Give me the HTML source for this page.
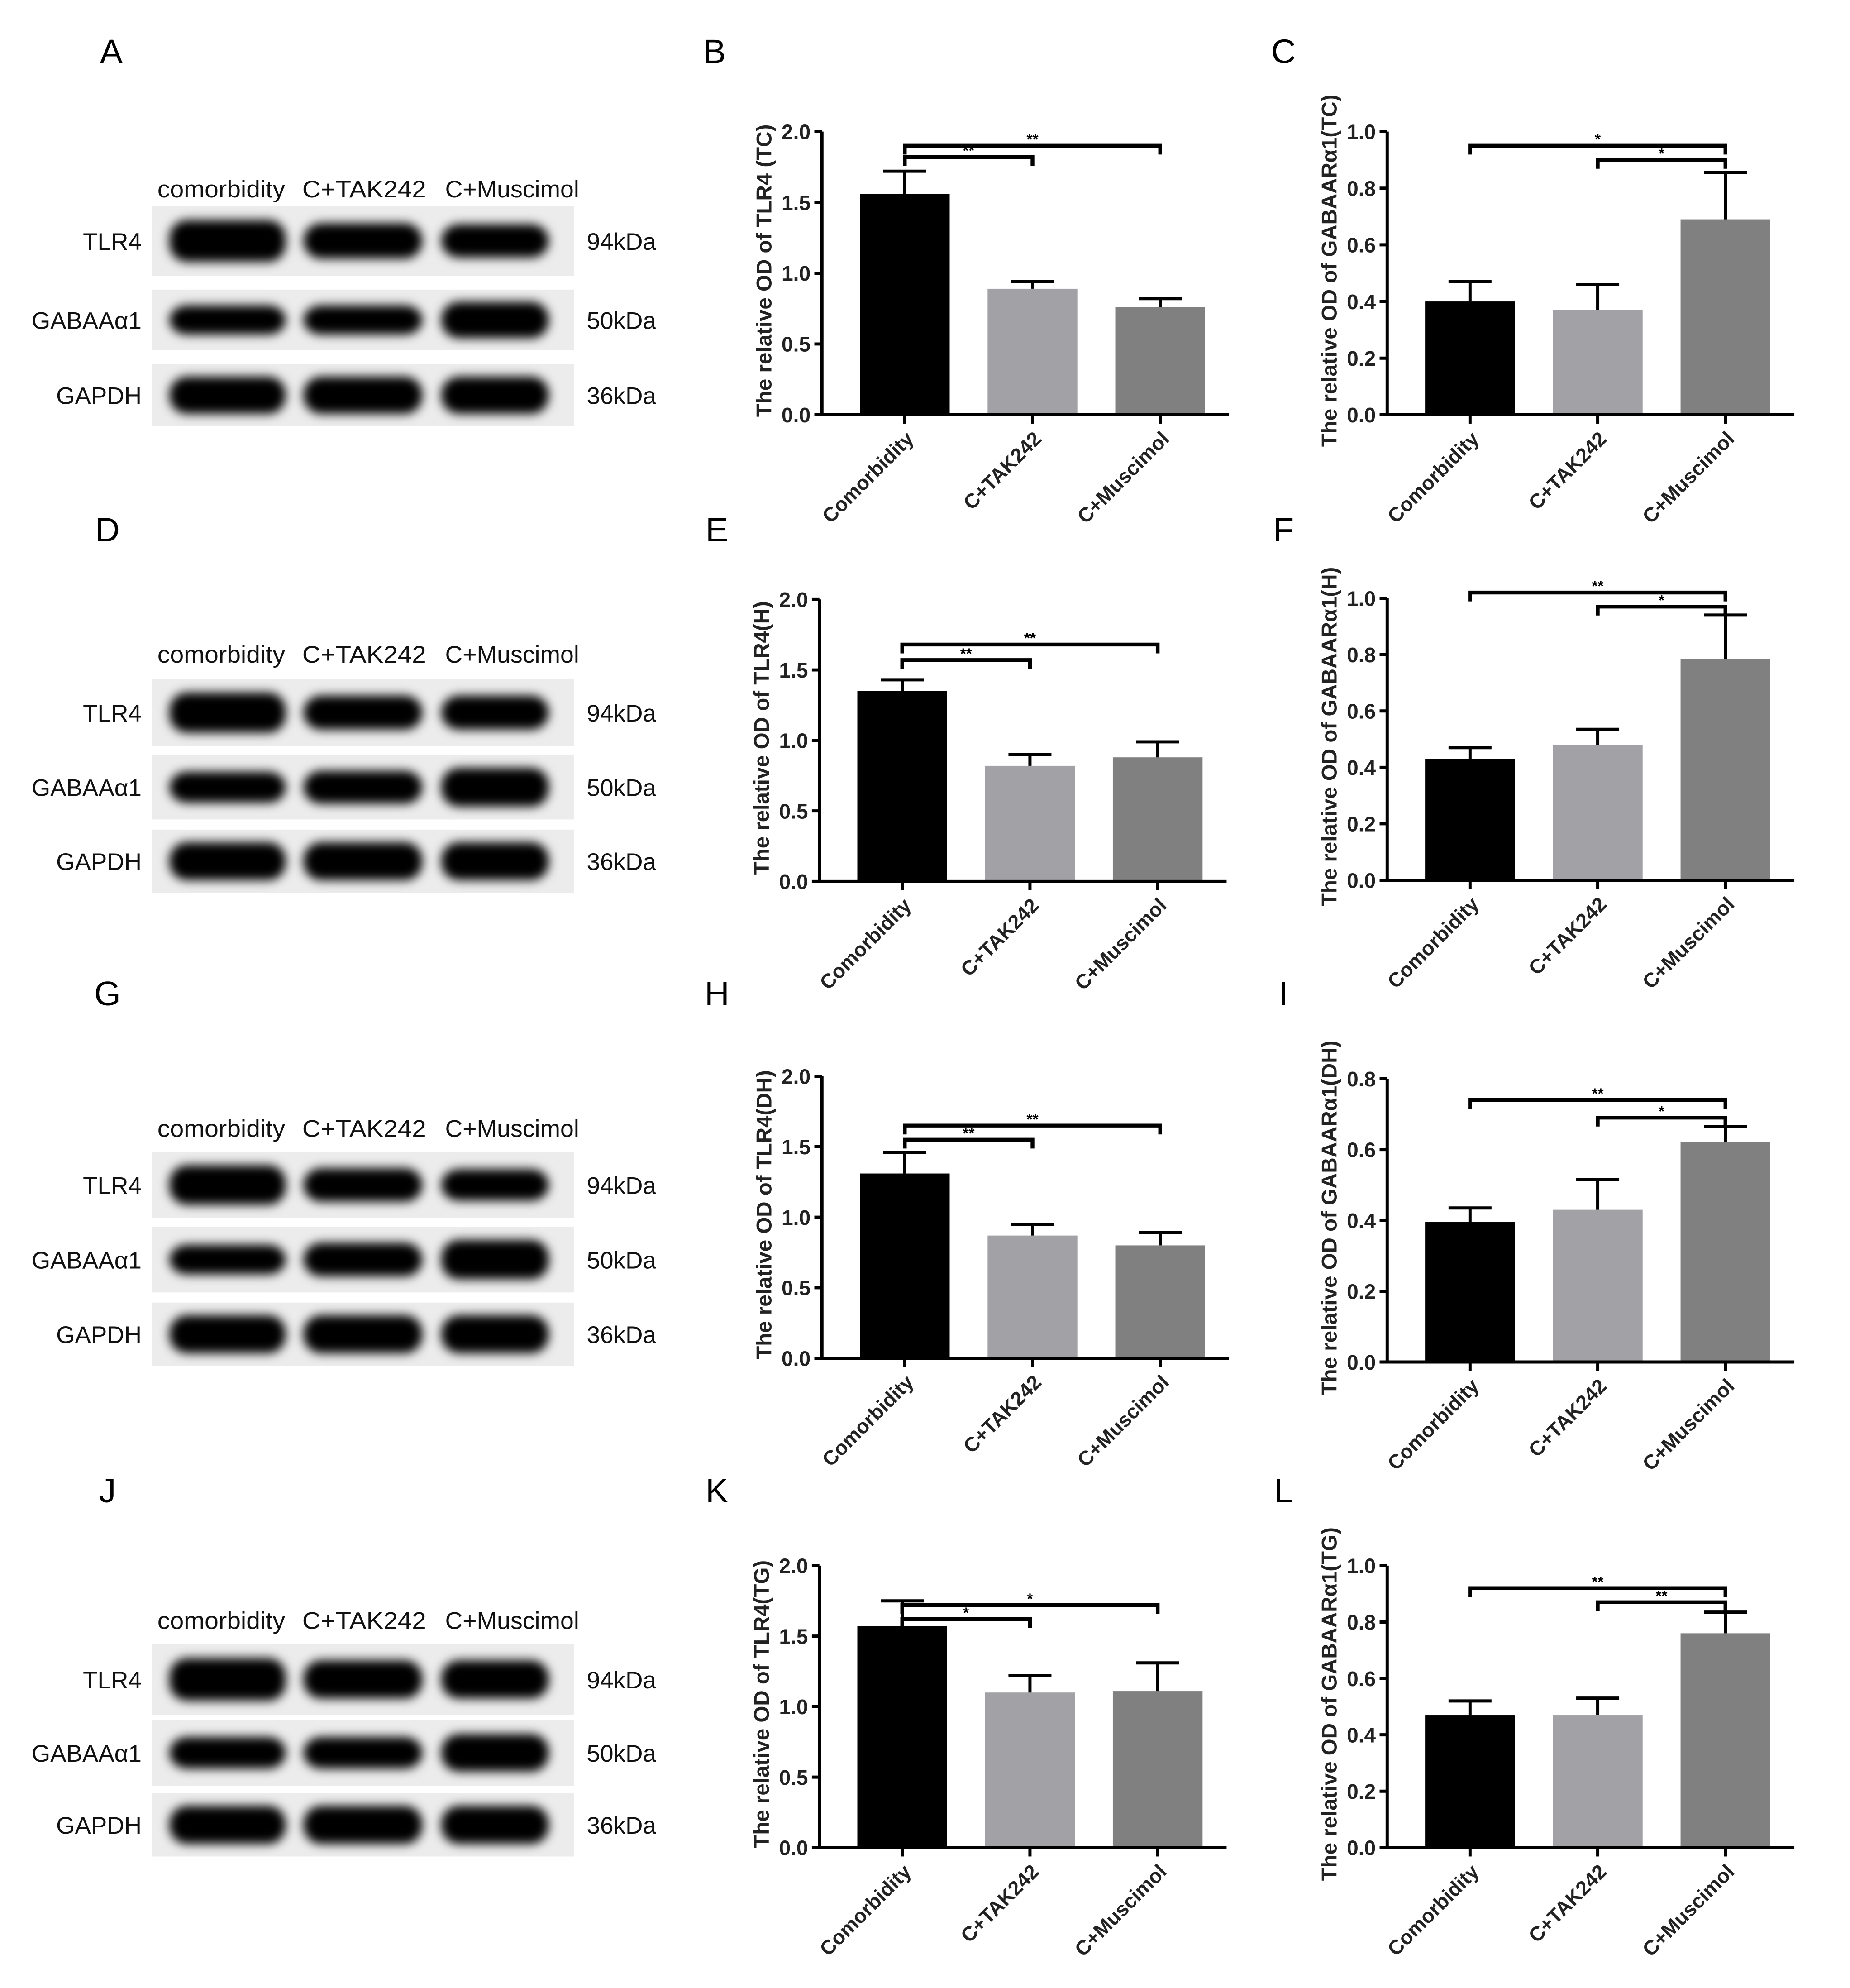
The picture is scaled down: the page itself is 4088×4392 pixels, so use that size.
<!DOCTYPE html>
<html><head><meta charset="utf-8"><style>
html,body{margin:0;padding:0;background:#fff}
svg{display:block}
text{font-family:"Liberation Sans",Arial,sans-serif}
</style></head><body>
<svg id="fig" width="4088" height="4392" viewBox="0 0 1463 1572" preserveAspectRatio="none" xmlns="http://www.w3.org/2000/svg">
<defs><filter id="blur" x="-20%" y="-50%" width="140%" height="200%"><feGaussianBlur stdDeviation="4"/></filter></defs>
<g id="root"></g>
</svg>
<script>
const categories = ["Comorbidity","C+TAK242","C+Muscimol"];
const bMeans=[1.56,0.89,0.76], bErrs=[0.16,0.05,0.06];
const cMeans=[0.40,0.37,0.69], cErrs=[0.07,0.09,0.165];
const eMeans=[1.35,0.82,0.88], eErrs=[0.08,0.08,0.11];
const fMeans=[0.43,0.48,0.785], fErrs=[0.04,0.055,0.155];
const hMeans=[1.31,0.87,0.80], hErrs=[0.15,0.08,0.09];
const iMeans=[0.395,0.43,0.62], iErrs=[0.04,0.085,0.045];
const kMeans=[1.57,1.10,1.11], kErrs=[0.18,0.12,0.20];
const lMeans=[0.47,0.47,0.76], lErrs=[0.05,0.06,0.075];
const tlrTicks=["0.0","0.5","1.0","1.5","2.0"];
const gabaTicks=["0.0","0.2","0.4","0.6","0.8","1.0"];
const gabaTicksI=["0.0","0.2","0.4","0.6","0.8"];
const bSig=[["**",0,1,1.82],["**",0,2,1.90]];
const cSig=[["*",0,2,0.95],["*",1,2,0.90]];
const eSig=[["**",0,1,1.57],["**",0,2,1.68]];
const fSig=[["**",0,2,1.02],["*",1,2,0.97]];
const hSig=[["**",0,1,1.55],["**",0,2,1.65]];
const iSig=[["**",0,2,0.74],["*",1,2,0.69]];
const kSig=[["*",0,1,1.62],["*",0,2,1.72]];
const lSig=[["**",0,2,0.92],["**",1,2,0.87]];
const laneLabels=["comorbidity","C+TAK242","C+Muscimol"];
const blotRows=["TLR4","GABAAα1","GAPDH"];
const blotKda=["94kDa","50kDa","36kDa"];

const NS="http://www.w3.org/2000/svg";
const root=document.getElementById('root');
function el(tag,attrs,parent,txt){const e=document.createElementNS(NS,tag);for(const k in attrs)e.setAttribute(k,attrs[k]);if(txt!==undefined)e.textContent=txt;(parent||root).appendChild(e);return e;}
const colors=["#000000","#a2a2a6","#808080"];

function chart(name,ax,y0,yTop,ymax,ticks,means,errs,sigs,title){
  const g=el('g',{});
  
  
  const ys=v=>y0-(v/ymax)*(y0-yTop);
  const bw=71, x0=ax+30, sp=101;
  const xc=i=>x0+i*sp+bw/2;
  means.forEach((m,i)=>{
    const r=el('rect',{x:x0+i*sp,y:ys(m),width:bw,height:y0-ys(m),fill:colors[i]},g);
    
    
    const e=el('path',{d:`M${xc(i)} ${ys(m)}V${ys(m+errs[i])}M${xc(i)-17} ${ys(m+errs[i])}H${xc(i)+17}`,stroke:'#000','stroke-width':2.5,fill:'none'},g);
    
    
  });
  const axis=el('path',{d:`M${ax} ${yTop}V${y0}H${ax+322}`,stroke:'#000','stroke-width':2.5,fill:'none'},g);
  
  
  ticks.forEach((t,j)=>{
    const v=parseFloat(t);const y=ys(v);
    el('path',{d:`M${ax-6} ${y}H${ax}`,stroke:'#000','stroke-width':2.5},g);
    const tl=el('text',{x:ax-9,y:y+6,'text-anchor':'end','font-size':16.5,'font-weight':'bold',fill:'#222'},g,t);
    
    
  });
  categories.forEach((c,i)=>{
    el('path',{d:`M${xc(i)} ${y0}V${y0+7}`,stroke:'#000','stroke-width':2.5},g);
    const t=el('text',{x:xc(i)+8,y:y0+20,'text-anchor':'end','font-size':16,'font-weight':'bold',fill:'#222',transform:`rotate(-45 ${xc(i)+8} ${y0+20})`},g,c);
    
    
  });
  sigs.forEach(s=>{
    const y=ys(s[3]);const a=xc(s[1]),b=xc(s[2]);
    const p=el('path',{d:`M${a} ${y+7}V${y}H${b}V${y+7}`,stroke:'#000','stroke-width':3,fill:'none'},g);
    
    
    const st=el('text',{x:(a+b)/2,y:y-1,'text-anchor':'middle','font-size':12,'font-weight':'bold'},g,s[0]);
    
    
  });
  const ty=(y0+yTop)/2-8;
  const tt=el('text',{x:ax-46,y:ty,'text-anchor':'middle','font-size':17,'font-weight':'bold',fill:'#222',transform:`rotate(-90 ${ax-40} ${ty})`},g,title);
  
  
}

chart('chart-b',650,328,104,2.0,tlrTicks,bMeans,bErrs,bSig,'The relative OD of TLR4 (TC)');
chart('chart-c',1097,328,104,1.0,gabaTicks,cMeans,cErrs,cSig,'The relative OD of GABAARα1(TC)');
chart('chart-e',648,697,474,2.0,tlrTicks,eMeans,eErrs,eSig,'The relative OD of TLR4(H)');
chart('chart-f',1097,696,473,1.0,gabaTicks,fMeans,fErrs,fSig,'The relative OD of GABAARα1(H)');
chart('chart-h',650,1074,851,2.0,tlrTicks,hMeans,hErrs,hSig,'The relative OD of TLR4(DH)');
chart('chart-i',1097,1077,853,0.8,gabaTicksI,iMeans,iErrs,iSig,'The relative OD of GABAARα1(DH)');
chart('chart-k',648,1461,1238,2.0,tlrTicks,kMeans,kErrs,kSig,'The relative OD of TLR4(TG)');
chart('chart-l',1097,1461,1238,1.0,gabaTicks,lMeans,lErrs,lSig,'The relative OD of GABAARα1(TG)');

const blotPanels=[
 {n:'a',lab:149,rows:[[163,218],[229,277],[288,337]],w:[[1,0.85,0.8],[0.8,0.8,1],[1,1,1]]},
 {n:'d',lab:517,rows:[[537,590],[597,648],[656,706]],w:[[1,0.85,0.85],[0.8,0.85,1],[1,1,1]]},
 {n:'g',lab:892,rows:[[911,963],[970,1022],[1030,1080]],w:[[1,0.85,0.8],[0.75,0.85,1],[1,1,1]]},
 {n:'j',lab:1281,rows:[[1300,1356],[1360,1412],[1418,1468]],w:[[1,0.9,0.9],[0.8,0.8,0.95],[1,1,1]]}
];
const laneX=[[128,232],[234,340],[343,440]];
const laneLabelX=[175,288,405];
blotPanels.forEach(p=>{
  const g=el('g',{});
  
  
  laneLabels.forEach((l,i)=>{
    const t=el('text',{x:laneLabelX[i],y:p.lab+7,'text-anchor':'middle','font-size':19,fill:'#111',textLength:i==0?101:i==1?98:106,lengthAdjust:'spacingAndGlyphs'},g,l);
    
    
  });
  p.rows.forEach((r,j)=>{
    const bg=el('rect',{x:120,y:r[0],width:334,height:r[1]-r[0],fill:'#ececec'},g);
    
    
    const h=r[1]-r[0];
    laneX.forEach((lx,i)=>{
      const f=p.w[j][i];const bh=h*0.6*f;const cy=r[0]+h/2;
      const b=el('rect',{x:lx[0]+6,y:cy-bh/2,width:lx[1]-lx[0]-12,height:bh,rx:14,fill:'#050505',filter:'url(#blur)'},g);
      
      
    });
    const lt=el('text',{x:112,y:(r[0]+r[1])/2+7,'text-anchor':'end','font-size':19,fill:'#111'},g,blotRows[j]);
    
    
    const kt=el('text',{x:464,y:(r[0]+r[1])/2+7,'font-size':19,fill:'#111'},g,blotKda[j]);
    
    
  });
});

const letters=[["A",88,40],["B",565,40],["C",1015,40],["D",85,418],["E",567,418],["F",1015,418],["G",85,785],["H",567,785],["I",1015,785],["J",85,1178],["K",567,1178],["L",1015,1178]];
letters.forEach(l=>{
  const t=el('text',{x:l[1],y:l[2]+10,'text-anchor':'middle','font-size':27,fill:'#000'},root,l[0]);
  
  
});
</script>
</body></html>
